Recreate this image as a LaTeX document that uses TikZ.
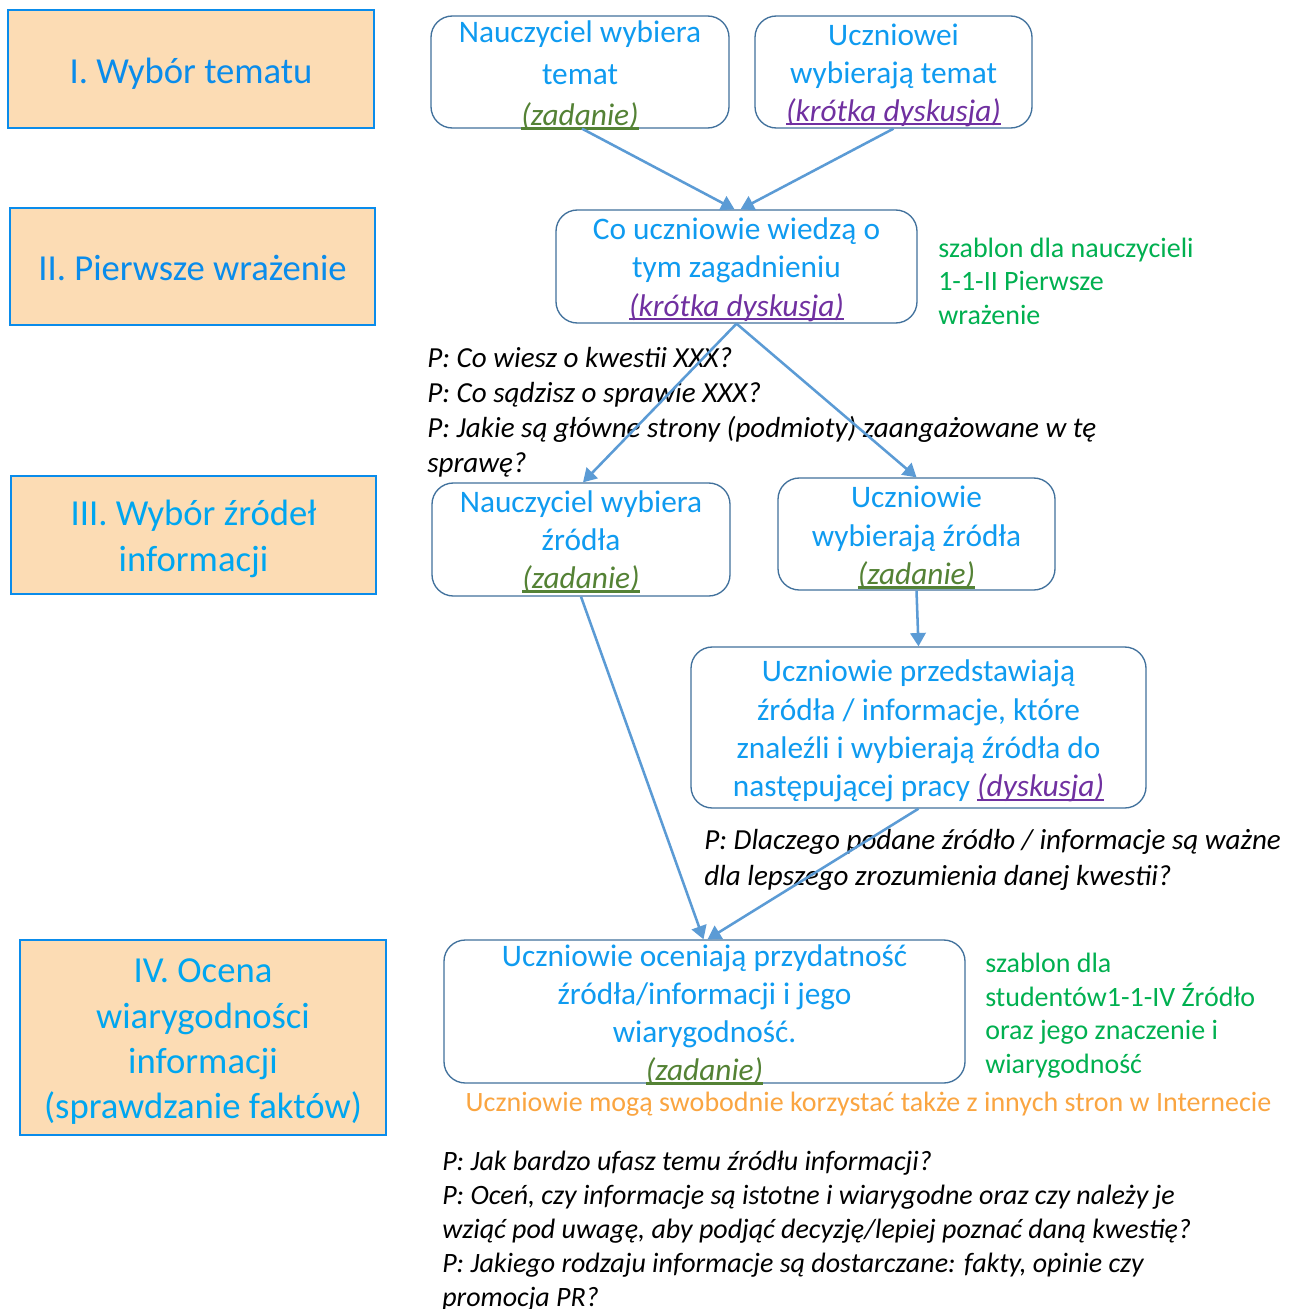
\documentclass[tikz,border=0pt]{standalone}
\usepackage{fontspec}
\setmainfont{Carlito}
\usetikzlibrary{arrows.meta,calc}
\definecolor{stagefill}{RGB}{252,220,180}
\definecolor{stageline}{RGB}{10,140,235}
\definecolor{stagetext}{RGB}{10,140,235}
\definecolor{stagetextb}{RGB}{0,166,240}
\definecolor{flowtext}{RGB}{15,155,240}
\definecolor{boxline}{RGB}{65,113,156}
\definecolor{arrowblue}{RGB}{91,155,213}
\definecolor{zadgreen}{RGB}{84,130,53}
\definecolor{dyspurple}{RGB}{112,48,160}
\definecolor{notegreen}{RGB}{0,176,80}
\definecolor{noteorange}{RGB}{250,165,65}
\newcommand\myul[1]{\setbox0=\hbox{#1}\rlap{\rule[-0.13em]{\wd0}{0.075em}}\box0}
\newcommand\mzad{{\color{zadgreen}\myul{\textit{(zadanie)}}}}
\newcommand\mkd{{\color{dyspurple}\myul{\textit{(krótka dyskusja)}}}}
\newcommand\mdys{{\color{dyspurple}\myul{\textit{(dyskusja)}}}}
\begin{document}
\begin{tikzpicture}[x=0.75pt,y=-0.75pt,
  stagebox/.style={draw=stageline, line width=2.2pt, fill=stagefill, inner sep=0pt},
  stagetxt/.style={text=stagetext, align=center, inner sep=0pt, font=\fontsize{27.5}{34}\selectfont},
  flowbox/.style={draw=boxline, line width=1pt, rounded corners=16pt, inner sep=0pt},
  flowtxt/.style={text=flowtext, align=center, inner sep=0pt, font=\fontsize{23.5}{28.8}\selectfont},
  conn/.style={draw=arrowblue, line width=1.9pt, -{Triangle[length=10pt,width=11.5pt]}},
  question/.style={anchor=west, align=left, inner sep=0pt, font=\fontsize{21.8}{26.25}\selectfont\itshape},
  note/.style={anchor=west, align=left, inner sep=0pt, text=notegreen, font=\fontsize{21}{25.2}\selectfont}]
\useasboundingbox (0,0) rectangle (1288,1309);
\fill[white] (0,0) rectangle (1288,1309);

% stage boxes
\node[stagebox, minimum width=274.5pt, minimum height=88.5pt] (s1) at (191,69) {};
\node[stagetxt] (s1t) at (191,74) {I. Wybór tematu};
\node[stagebox, minimum width=273.75pt, minimum height=87.75pt] (s2) at (192.5,266.5) {};
\node[stagetxt] (s2t) at (192.5,268) {II. Pierwsze wrażenie};
\node[stagebox, minimum width=273.75pt, minimum height=88.5pt] (s3) at (193.5,535) {};
\node[stagetxt, text=stagetextb] (s3t) at (193.5,539) {III. Wybór źródeł\\informacji};
\node[stagebox, minimum width=274.5pt, minimum height=146.25pt] (s4) at (203,1037.5) {};
\node[stagetxt, text=stagetextb] (s4t) at (203,1042) {IV. Ocena\\wiarygodności\\informacji\\(sprawdzanie faktów)};

% flow boxes
\node[flowbox, minimum width=223.5pt, minimum height=84pt] (a) at (580,72) {};
\node[flowtxt, font=\fontsize{23.5}{31.1}\selectfont] (at) at (580,75.5) {Nauczyciel wybiera\\temat\\\mzad};
\node[flowbox, minimum width=207.75pt, minimum height=84pt] (b) at (893.5,72) {};
\node[flowtxt, font=\fontsize{23.5}{28.5}\selectfont] (bt) at (893.5,75) {Uczniowei\\wybierają temat\\\mkd};
\node[flowbox, minimum width=270.75pt, minimum height=84.75pt] (c) at (736.5,266.5) {};
\node[flowtxt] (ct) at (736.5,269.5) {Co uczniowie wiedzą o\\tym zagadnieniu\\\mkd};
\node[flowbox, minimum width=223.5pt, minimum height=84.75pt] (d) at (581,539.5) {};
\node[flowtxt, font=\fontsize{23.5}{28.5}\selectfont] (dt) at (581,542) {Nauczyciel wybiera\\źródła\\\mzad};
\node[flowbox, minimum width=207.75pt, minimum height=84pt] (e) at (916.5,534) {};
\node[flowtxt] (et) at (916.5,537.5) {Uczniowie\\wybierają źródła\\\mzad};
\node[flowbox, minimum width=341.25pt, minimum height=120.75pt] (f) at (918.5,727.5) {};
\node[flowtxt] (ft) at (918.5,731) {Uczniowie przedstawiają\\źródła / informacje, które\\znaleźli i wybierają źródła do\\następującej pracy \mdys};
\node[flowbox, minimum width=390.75pt, minimum height=107.25pt] (g) at (704.5,1011.5) {};
\node[flowtxt, font=\fontsize{23.5}{28.5}\selectfont] (gt) at (704.5,1014.75) {Uczniowie oceniają przydatność\\źródła/informacji i jego\\wiarygodność.\\\mzad};

% notes
\node[note] (n1) at (938,281) {szablon dla nauczycieli\\1-1-II Pierwsze\\wrażenie};
\node[note] (n2) at (985,1015.5) {szablon dla\\studentów1-1-IV Źródło\\oraz jego znaczenie i\\wiarygodność};
\node[inner sep=0pt, text=noteorange, font=\fontsize{21}{25}\selectfont] (o1) at (868.5,1104) {Uczniowie mogą swobodnie korzystać także z innych stron w Internecie};

% questions
\node[question] (q1) at (427,412) {P: Co wiesz o kwestii XXX?\\P: Co sądzisz o sprawie XXX?\\P: Jakie są główne strony (podmioty) zaangażowane w tę\\sprawę?};
\node[question, font=\fontsize{21.8}{27}\selectfont\itshape] (q2) at (704,859.5) {P: Dlaczego podane źródło / informacje są ważne\\dla lepszego zrozumienia danej kwestii?};
\node[question, font=\fontsize{21}{25.5}\selectfont\itshape] (q3) at (442,1231) {P: Jak bardzo ufasz temu źródłu informacji?\\P: Oceń, czy informacje są istotne i wiarygodne oraz czy należy je\\wziąć pod uwagę, aby podjąć decyzję/lepiej poznać daną kwestię?\\P: Jakiego rodzaju informacje są dostarczane: fakty, opinie czy\\promocja PR?};

% connectors
\draw[conn] ($(a.south)+(2,0)$) -- ($(c.north)+(-2,0)$);
\draw[conn] (b.south) -- ($(c.north)+(4,0)$);
\draw[conn] (c.south) -- ($(d.north)+(2,0)$);
\draw[conn] (c.south) -- (e.north);
\draw[conn] (d.south) -- ($(g.north)+(-1,0)$);
\draw[conn] (e.south) -- (f.north);
\draw[conn] (f.south) -- ($(g.north)+(3,0)$);
\end{tikzpicture}
\end{document}
